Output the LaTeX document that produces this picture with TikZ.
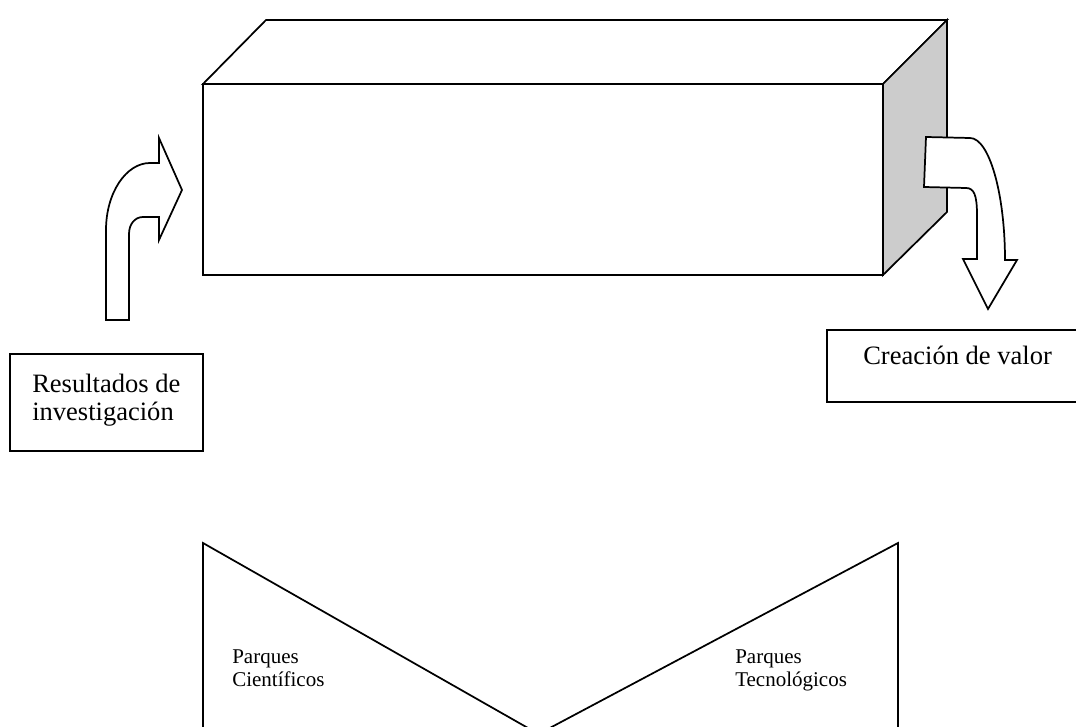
\documentclass[tikz,border=0pt]{standalone}
\usepackage{fontspec}
\setmainfont{Liberation Serif}
\definecolor{sideface}{gray}{0.8}
\begin{document}
\begin{tikzpicture}[x=0.75pt,y=-0.75pt,
  edge/.style={draw=black,line width=1.3pt,line join=miter},
  bigtext/.style={font=\fontsize{19.9}{23}\selectfont,inner sep=0pt,anchor=base west},
  smalltext/.style={font=\fontsize{15.75}{18}\selectfont,inner sep=0pt,anchor=base west}]
\useasboundingbox (0,0) rectangle (1076,727);
\clip (0,0) rectangle (1076,727);

% the prism: front, top and shaded right face
\draw[edge,fill=white] (203,84) rectangle (883,275);
\draw[edge,fill=white] (203,84) -- (266,20) -- (947,20) -- (883,84) -- cycle;
\draw[edge,fill=sideface] (883,84) -- (947,20) -- (947,212) -- (883,275) -- cycle;

% input arrow, bending up and into the prism
\draw[edge,fill=white] (106,320) -- (106,230)
  .. controls (106,193) and (126,163) .. (150,163) -- (159,163) -- (159,138)
  -- (182,190) -- (159,240) -- (159,217) -- (143,217)
  .. controls (135,217) and (129,224) .. (129,234) -- (129,320) -- cycle;

% output arrow, leaving the side face and bending down
\draw[edge,fill=white] (926,137) -- (970,138)
  .. controls (989,138) and (1005,193) .. (1005,260) -- (1017,260)
  -- (988,309) -- (963,259) -- (977,259) -- (977,215)
  .. controls (977,195) and (974,188) .. (966,188) -- (924,187) -- cycle;

% label boxes
\draw[edge] (10,354) rectangle (203,451);
\node[bigtext] (res1) at (32,393) {Resultados de};
\node[bigtext] (res2) at (32,421) {investigación};

\draw[edge] (827,330) rectangle (1090,402);
\node[bigtext] (val) at (863,365) {Creación de valor};

% the two parks, meeting in a V below the frame
\draw[edge] (203,760) -- (203,543) -- (538.5,734) -- (898,543) -- (898,760);
\node[smalltext] (pc1) at (232,663) {Parques};
\node[smalltext] (pc2) at (232,686) {Científicos};
\node[smalltext] (pt1) at (735,663) {Parques};
\node[smalltext] (pt2) at (735,686) {Tecnológicos};
\end{tikzpicture}
\end{document}
